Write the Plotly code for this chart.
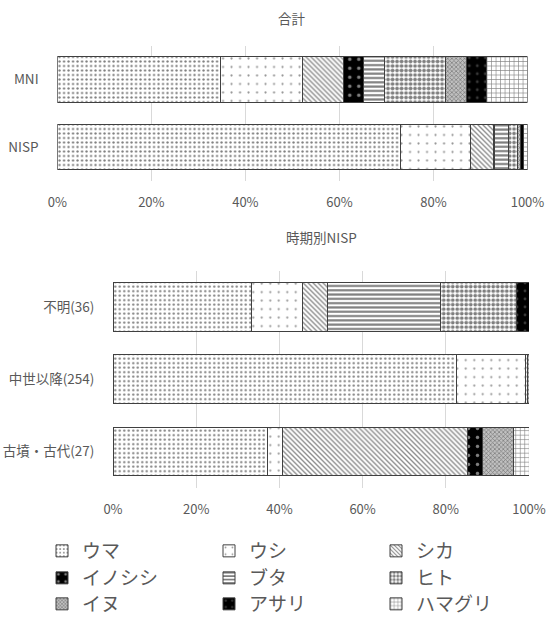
import plotly.graph_objects as go

W, H = 553, 631

species = ["ウマ", "ウシ", "シカ", "イノシシ", "ブタ", "ヒト", "イヌ", "アサリ", "ハマグリ"]

# 合計
total_cats = ["MNI", "NISP"]
mni = [8, 4, 2, 1, 1, 3, 1, 1, 2]
nisp = [230, 47, 15, 1, 9, 6, 2, 2, 3]

# 時期別NISP
period_cats = ["不明(36)", "中世以降(254)", "古墳・古代(27)"]
fumei = [11, 4, 2, 0, 9, 6, 0, 1, 0]
chusei = [210, 42, 0, 0, 0, 1, 1, 0, 0]
kofun = [10, 1, 12, 1, 0, 0, 2, 0, 1]

x_ticks = [0, 20, 40, 60, 80, 100]
x_tick_labels = ["0%", "20%", "40%", "60%", "80%", "100%"]

patterns = [
    dict(shape=".", fgcolor="black", bgcolor="white", size=4.5, solidity=0.2),
    dict(shape=".", fgcolor="#303030", bgcolor="white", size=8.5, solidity=0.05),
    dict(shape="\\", fgcolor="#1a1a1a", bgcolor="white", size=3.5, solidity=0.4),
    dict(shape=".", fgcolor="white", bgcolor="black", size=9, solidity=0.12),
    dict(shape="-", fgcolor="black", bgcolor="white", size=4.3, solidity=0.5),
    dict(shape=".", fgcolor="black", bgcolor="white", size=4.5, solidity=0.55),
    dict(shape="x", fgcolor="#303030", bgcolor="#c0c0c0", size=3, solidity=0.4),
    dict(shape=".", fgcolor="#707070", bgcolor="black", size=8, solidity=0.1),
    dict(shape="+", fgcolor="black", bgcolor="white", size=4.5, solidity=0.25),
]

FONT = "Noto Sans CJK JP"
GREY = "#595959"

legend_names = ["legend", "legend2", "legend3"]
legend_rows_y = [551, 578, 604]

fig = go.Figure()
for i, sp in enumerate(species):
    marker = dict(color="white", line=dict(color="#404040", width=1), pattern=patterns[i])
    fig.add_trace(go.Bar(
        y=total_cats, x=[mni[i], nisp[i]], orientation="h", name=sp,
        legendgroup=sp, showlegend=True, legend=legend_names[i // 3], marker=marker,
        xaxis="x", yaxis="y", hoverinfo="skip"))
for i, sp in enumerate(species):
    marker = dict(color="white", line=dict(color="#404040", width=1), pattern=patterns[i])
    fig.add_trace(go.Bar(
        y=period_cats, x=[fumei[i], chusei[i], kofun[i]], orientation="h", name=sp,
        legendgroup=sp, showlegend=False, marker=marker,
        xaxis="x2", yaxis="y2", hoverinfo="skip"))

def px_x(p):
    return p / W

def px_y(p):
    return 1 - p / H

axis_x_common = dict(
    range=[0, 100], tickmode="array", tickvals=x_ticks, ticktext=x_tick_labels,
    showgrid=True, gridcolor="#d9d9d9", gridwidth=1, zeroline=False, showline=False,
    ticks="outside", ticklen=10, tickcolor="rgba(0,0,0,0)",
    tickfont=dict(family=FONT, size=13, color=GREY), fixedrange=True,
    automargin=False,
)
axis_y_common = dict(
    autorange="reversed", showgrid=False, zeroline=False, showline=False,
    ticks="outside", ticklen=15, tickcolor="rgba(0,0,0,0)",
    tickfont=dict(family=FONT, size=13.5, color=GREY), fixedrange=True,
    automargin=False,
)

legend_common = dict(
    orientation="h", x=px_x(42), xanchor="left", yanchor="middle",
    entrywidth=122, entrywidthmode="pixels", traceorder="normal",
    font=dict(family=FONT, size=19, color=GREY), tracegroupgap=0,
    itemclick=False, itemdoubleclick=False, bgcolor="rgba(0,0,0,0)",
)

layout_legends = {name: dict(y=px_y(yy), **legend_common)
                  for name, yy in zip(legend_names, legend_rows_y)}

fig.update_layout(
    width=W, height=H, autosize=False,
    margin=dict(l=0, r=0, t=0, b=0, pad=0),
    paper_bgcolor="white", plot_bgcolor="white",
    barmode="stack", barnorm="percent", bargap=0.325,
    xaxis=dict(domain=[px_x(57.3), px_x(527.5)], anchor="y", **axis_x_common),
    yaxis=dict(domain=[px_y(180.75), px_y(45.75)], anchor="x", **axis_y_common),
    xaxis2=dict(domain=[px_x(113), px_x(529)], anchor="y2", **axis_x_common),
    yaxis2=dict(domain=[px_y(487.6), px_y(270.9)], anchor="x2", **axis_y_common),
    annotations=[
        dict(text="合計", x=px_x(292), y=px_y(18), xref="paper", yref="paper",
             xanchor="center", yanchor="middle",
             showarrow=False, font=dict(family=FONT, size=13.5, color=GREY)),
        dict(text="時期別NISP", x=px_x(321), y=px_y(237), xref="paper", yref="paper",
             xanchor="center", yanchor="middle",
             showarrow=False, font=dict(family=FONT, size=13.5, color=GREY)),
    ],
    **layout_legends,
)

fig.write_html("out.html", config=dict(displayModeBar=False))
